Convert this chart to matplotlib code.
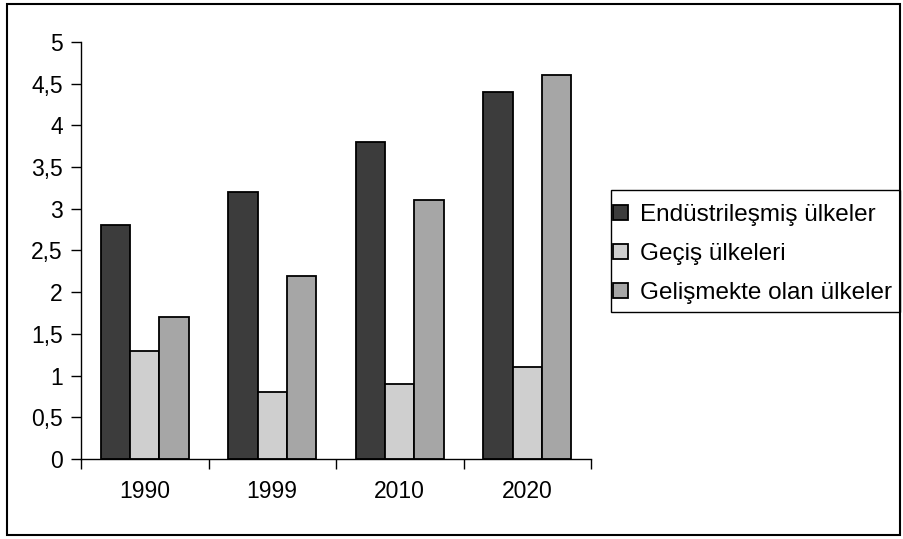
import matplotlib.pyplot as plt
import numpy as np
from matplotlib.patches import Rectangle

plt.rcParams['font.family'] = ['Liberation Sans', 'DejaVu Sans']

years = ['1990', '1999', '2010', '2020']
series = ['Endüstrileşmiş ülkeler', 'Geçiş ülkeleri', 'Gelişmekte olan ülkeler']
endustri = [2.8, 3.2, 3.8, 4.4]
gecis = [1.3, 0.8, 0.9, 1.1]
gelismekte = [1.7, 2.2, 3.1, 4.6]
colors = ['#3c3c3c', '#cfcfcf', '#a6a6a6']

W, H = 904, 539
fig = plt.figure(figsize=(W / 100, H / 100), dpi=100)
ax = fig.add_axes([81/W, 1-459/H, (591-81)/W, (459-42)/H])

x = np.arange(len(years))
w = 0.23
for i, (vals, lab, c) in enumerate(zip([endustri, gecis, gelismekte], series, colors)):
    ax.bar(x + (i - 1) * w, vals, width=w, color=c, edgecolor='black',
           linewidth=1.3, label=lab)

ax.set_xlim(-0.5, len(years) - 0.5)
ax.set_ylim(0, 5)
ax.set_yticks(np.arange(0, 5.01, 0.5))
ax.set_yticklabels([('%g' % v).replace('.', ',') for v in np.arange(0, 5.01, 0.5)])
ax.set_xticks(x)
ax.set_xticklabels(years)
ax.set_xticks(np.arange(-0.5, len(years)), minor=True)
ax.tick_params(axis='x', which='major', length=0, pad=15, labelsize=16.5)
ax.tick_params(axis='x', which='minor', length=7, direction='out', width=1)
ax.tick_params(axis='y', length=7, width=1, direction='out', labelsize=16.5, pad=6)
for s in ['top', 'right']:
    ax.spines[s].set_visible(False)
for s in ['left', 'bottom']:
    ax.spines[s].set_linewidth(1)

# legend entries without their own frame; the box is drawn separately
fig.legend(loc='upper left', bbox_to_anchor=(613/W, 1-204/H),
           fontsize=17.5, frameon=False,
           handlelength=0.6, handleheight=0.6, handletextpad=0.5,
           borderpad=0, labelspacing=0.7, borderaxespad=0)
fig.patches.append(Rectangle((611/W, 1-312/H), (900-611)/W, 122/H, transform=fig.transFigure,
                             fill=False, edgecolor='black', linewidth=1))

# outer chart border
fig.patches.append(Rectangle((7/W, 4/H), 893/W, 531/H, transform=fig.transFigure,
                             fill=False, edgecolor='black', linewidth=1.5))

fig.savefig('out.png', dpi=100)
